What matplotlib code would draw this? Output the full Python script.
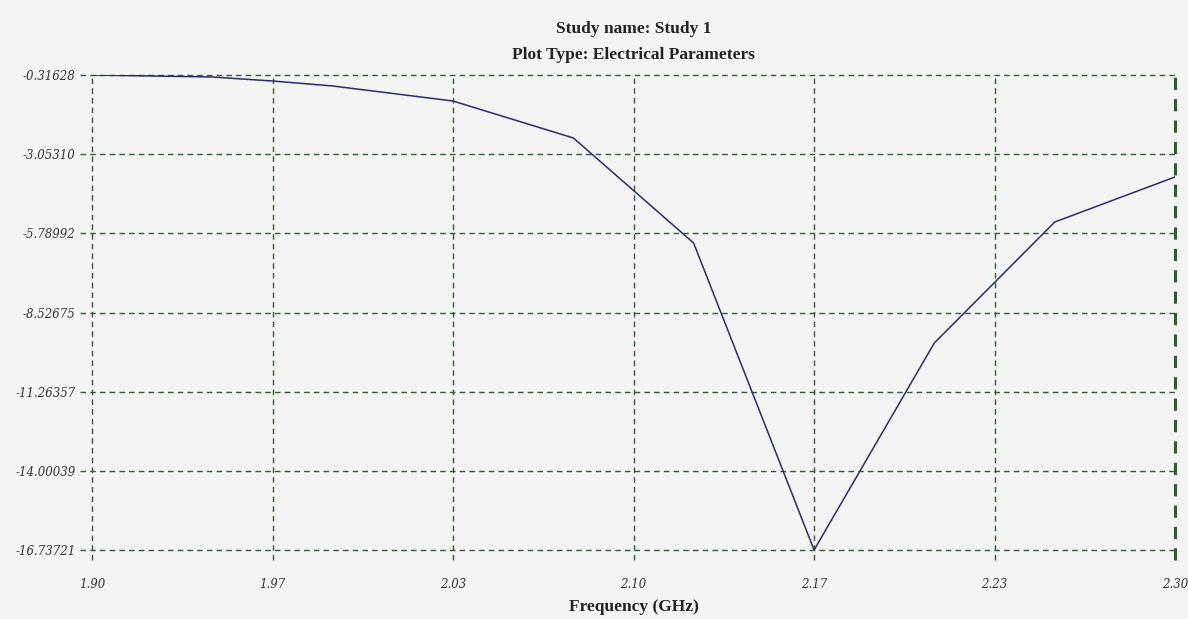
import matplotlib
matplotlib.use("Agg")
from matplotlib import pyplot as plt

# frequency points (GHz) and response values
freq = [1.90, 1.9444, 1.9667, 1.9889, 2.0333, 2.0778, 2.1222, 2.1667, 2.2111, 2.2556, 2.30]
values = [-0.316, -0.385, -0.524, -0.696, -1.215, -2.494, -6.124, -16.737, -9.581, -5.398, -3.842]

y_ticks = [-0.31628, -3.05310, -5.78992, -8.52675, -11.26357, -14.00039, -16.73721]
x_ticks = [1.90 + k * 0.4 / 6 for k in range(7)]
x_labels = ["1.90", "1.97", "2.03", "2.10", "2.17", "2.23", "2.30"]

bg = "#f4f4f4"
grid_col = "#2d5e2d"
dash = (0, (4, 3))

fig = plt.figure(figsize=(11.88, 6.19), dpi=100, facecolor=bg)
ax = fig.add_axes([92 / 1188, 1 - 550 / 619, (1175 - 92) / 1188, 475 / 619])
ax.set_facecolor(bg)

ax.plot(freq, values, color="#2b2b6e", lw=1.1, zorder=3)

ax.set_xlim(1.90, 2.30)
ax.set_ylim(y_ticks[-1], y_ticks[0])
ax.set_xticks(x_ticks)
ax.set_xticklabels(x_labels)
ax.set_yticks(y_ticks)
ax.set_yticklabels(["%.5f" % v for v in y_ticks])

for s in ax.spines.values():
    s.set_visible(False)

# dashed grid, running a little past the plot area like the original
for x in x_ticks:
    w = 2.2 if x == x_ticks[-1] else 1.0
    ax.axvline(x, ymin=-0.022, ymax=1, color=grid_col, ls=dash, lw=w, zorder=1, clip_on=False)
for y in y_ticks:
    ax.axhline(y, xmin=-0.011, xmax=1, color=grid_col, ls=dash, lw=1.0, zorder=1, clip_on=False)

ax.tick_params(axis="both", length=0)
ax.tick_params(axis="x", pad=20)
ax.tick_params(axis="y", pad=12)

for lab in ax.get_xticklabels() + ax.get_yticklabels():
    lab.set_fontfamily("DejaVu Serif")
    lab.set_fontstyle("italic")
    lab.set_fontsize(8.5)
    lab.set_color("#333333")

cx = (92 + 1175) / 2 / 1188
fig.text(cx, 1 - 29 / 619, "Study name: Study 1", ha="center", va="center",
         fontfamily="Liberation Serif", fontweight="bold", fontsize=12.5, color="#222222")
fig.text(cx, 1 - 55 / 619, "Plot Type: Electrical Parameters", ha="center", va="center",
         fontfamily="Liberation Serif", fontweight="bold", fontsize=12.5, color="#222222")
fig.text(cx, 1 - 607 / 619, "Frequency (GHz)", ha="center", va="center",
         fontfamily="Liberation Serif", fontweight="bold", fontsize=12.5, color="#222222")

fig.savefig("out.png", dpi=100, facecolor=bg)
